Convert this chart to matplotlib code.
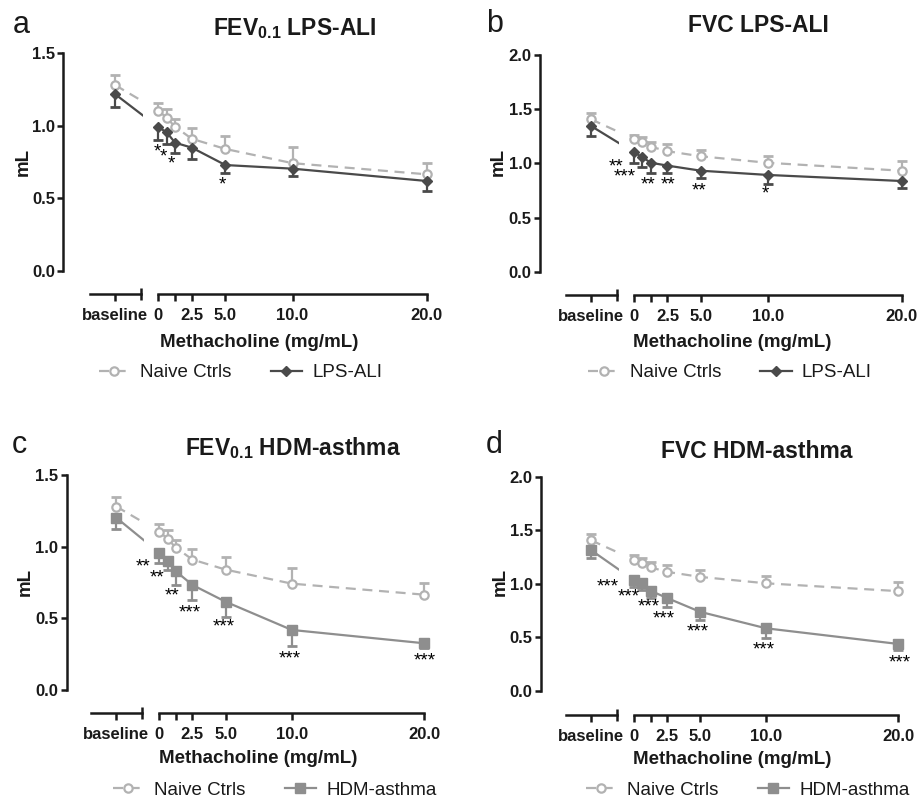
import matplotlib.pyplot as plt
import numpy as np

plt.rcParams['font.family'] = ['Liberation Sans', 'DejaVu Sans']
plt.rcParams['mathtext.default'] = 'regular'

# methacholine doses (first value of every series is the baseline)
doses = [0, 0.625, 1.25, 2.5, 5.0, 10.0, 20.0]
dose_ticks = [0, 1.25, 2.5, 5.0, 10.0, 20.0]
dose_labels = ['0', '', '2.5', '5.0', '10.0', '20.0']

# FEV0.1 (mL)
fev_naive = [1.28, 1.105, 1.055, 0.993, 0.91, 0.84, 0.742, 0.665]
fev_naive_sem = [0.068, 0.055, 0.058, 0.057, 0.075, 0.09, 0.11, 0.08]
fev_lps = [1.217, 0.99, 0.955, 0.883, 0.849, 0.729, 0.704, 0.619]
fev_lps_sem = [0.085, 0.09, 0.081, 0.073, 0.078, 0.053, 0.048, 0.067]
fev_hdm = [1.202, 0.957, 0.898, 0.828, 0.733, 0.616, 0.419, 0.326]
fev_hdm_sem = [0.081, 0.07, 0.06, 0.093, 0.105, 0.106, 0.112, 0.03]

# FVC (mL)
fvc_naive = [1.407, 1.225, 1.195, 1.154, 1.112, 1.065, 1.005, 0.932]
fvc_naive_sem = [0.056, 0.04, 0.05, 0.046, 0.064, 0.062, 0.066, 0.086]
fvc_lps = [1.345, 1.102, 1.056, 1.006, 0.979, 0.932, 0.893, 0.837]
fvc_lps_sem = [0.092, 0.096, 0.092, 0.092, 0.071, 0.07, 0.083, 0.067]
fvc_hdm = [1.315, 1.035, 1.004, 0.936, 0.868, 0.739, 0.585, 0.439]
fvc_hdm_sem = [0.071, 0.065, 0.06, 0.071, 0.088, 0.079, 0.095, 0.056]

# significance stars (dose position, mL position, text)
stars_a_x = [-0.1, 0.4, 1.0, 4.8]
stars_a_y = [0.84, 0.805, 0.757, 0.614]
stars_a = ['*', '*', '*', '*']
stars_b_x = [-1.36, -0.67, 1.02, 2.51, 4.87, 9.84]
stars_b_y = [0.992, 0.902, 0.831, 0.831, 0.779, 0.748]
stars_b = ['**', '***', '**', '**', '**', '*']
stars_c_x = [-1.21, -0.15, 0.94, 2.32, 4.88, 9.81, 20.0]
stars_c_y = [0.884, 0.807, 0.679, 0.563, 0.465, 0.242, 0.225]
stars_c = ['**', '**', '**', '***', '***', '***', '***']
stars_d_x = [-1.95, -0.43, 1.08, 2.27, 4.8, 9.85, 20.1]
stars_d_y = [0.998, 0.911, 0.812, 0.70, 0.581, 0.413, 0.296]
stars_d = ['***'] * 7

NAIVE_C = '#b2b2b2'
LPS_C = '#4a4a4a'
HDM_C = '#8e8e8e'
AX_C = '#1a1a1a'
STAR_FS = 13.5

W, H = 921, 800
fig = plt.figure(figsize=(W / 100, H / 100), dpi=100)


def fx(px):
    return px / W


def fy(py):
    return 1 - py / H


def series(ax, x, y, sem, color, marker, ls, up, clip, label=None):
    y = np.asarray(y)
    sem = np.asarray(sem)
    zeros = np.zeros_like(sem)
    yerr = [zeros, sem] if up else [sem, zeros]
    ax.errorbar(x, y, yerr=yerr, fmt='none', ecolor=color, elinewidth=1.6,
                capsize=0, clip_on=clip, zorder=2)
    ends = y + sem if up else y - sem
    ax.plot(x, ends, ls='none', marker='_', ms=7, mew=2, color=color,
            clip_on=clip, zorder=2)
    if marker == 'o':
        mk = dict(marker='o', ms=6, mfc='white', mec=color, mew=1.6)
    elif marker == 'D':
        mk = dict(marker='D', ms=5.5, mfc=color, mec=color)
    else:
        mk = dict(marker=marker, ms=6.5, mfc=color, mec=color)
    line, = ax.plot(x, y, color=color, lw=1.6, clip_on=clip, zorder=3,
                    label=label, **mk)
    if ls == 'dashed':
        line.set_dashes((4.5, 3))
    return line


def panel(g, naive, naive_sem, dis, dis_sem, dis_c, dis_m, dis_label,
          ymax, title, letter, sx, sy, st):
    x0, x20, y0, ytop, spine_x, axis_y = g['x0'], g['x20'], g['y0'], g['ytop'], g['spine'], g['axis']
    s = (x20 - x0) / 20.0
    base_x = -43 / s
    h = (y0 - ytop) / H
    out = (axis_y - y0) * 0.72

    axl = fig.add_axes([fx(spine_x), fy(y0), (x0 - 15 - spine_x) / W, h])
    axr = fig.add_axes([fx(x0), fy(y0), (x20 - x0) / W, h])
    axl.set_xlim((spine_x - x0) / s, -15 / s)
    axr.set_xlim(0, 20)
    for ax in (axl, axr):
        ax.set_ylim(0, ymax)
        ax.patch.set_visible(False)
        ax.spines['top'].set_visible(False)
        ax.spines['right'].set_visible(False)
        ax.spines['bottom'].set_position(('outward', out))
        ax.spines['bottom'].set_linewidth(1.8)
        ax.spines['bottom'].set_color(AX_C)
        ax.tick_params(axis='x', length=5, width=1.8, color=AX_C, pad=5,
                       labelsize=12)
        ax.tick_params(axis='x', which='minor', direction='inout', length=9,
                       width=1.8, color=AX_C)
    axr.spines['left'].set_visible(False)
    axr.set_yticks([])
    axl.spines['left'].set_bounds(0, ymax)
    axl.spines['left'].set_linewidth(1.8)
    axl.spines['left'].set_color(AX_C)
    yt = np.arange(0, ymax + 0.01, 0.5)
    axl.set_yticks(yt)
    axl.set_yticklabels(['%.1f' % v for v in yt], fontweight='bold',
                        fontsize=12, color=AX_C)
    axl.tick_params(axis='y', length=4, width=1.8, color=AX_C, pad=2)

    axl.spines['bottom'].set_bounds(-68 / s, -17 / s)
    axl.set_xticks([base_x])
    axl.set_xticklabels(['baseline'], fontweight='bold', fontsize=12, color=AX_C)
    axl.set_xticks([-17 / s], minor=True)
    axr.spines['bottom'].set_bounds(0, 20)
    axr.set_xticks(dose_ticks)
    axr.set_xticklabels(dose_labels, fontweight='bold', fontsize=12, color=AX_C)
    axr.set_xticks([0], minor=True)

    xs = [base_x] + doses
    series(axl, xs, naive, naive_sem, NAIVE_C, 'o', 'dashed', True, True)
    series(axl, xs, dis, dis_sem, dis_c, dis_m, 'solid', False, True)
    hn = series(axr, doses, naive[1:], naive_sem[1:], NAIVE_C, 'o', 'dashed', True, False, 'Naive Ctrls')
    hd = series(axr, doses, dis[1:], dis_sem[1:], dis_c, dis_m, 'solid', False, False, dis_label)

    for x, y, t in zip(sx, sy, st):
        axr.annotate(t, (x, y), xytext=(0, -0.41 * STAR_FS), textcoords='offset points',
                     ha='center', va='baseline', fontsize=STAR_FS, color='black',
                     annotation_clip=False)

    fig.text(fx(g['title'][0]), fy(g['title'][1]), title, ha='center',
             va='baseline', fontsize=16.5, fontweight='bold', color=AX_C)
    fig.text(fx(g['letter'][0]), fy(g['letter'][1]), letter, ha='left',
             va='baseline', fontsize=22, color=AX_C)
    fig.text(fx(g['ylab'][0]), fy(g['ylab'][1]), 'mL', rotation=90, ha='center',
             va='center', fontsize=13.5, fontweight='bold', color=AX_C)
    fig.text(fx(g['xlab'][0]), fy(g['xlab'][1]), 'Methacholine (mg/mL)',
             ha='center', va='center', fontsize=13.5, fontweight='bold', color=AX_C)
    fig.legend([hn, hd], ['Naive Ctrls', dis_label], loc='center',
               bbox_to_anchor=(fx(g['leg'][0]), fy(g['leg'][1])), ncol=2,
               frameon=False, fontsize=13.5, handlelength=1.66,
               handletextpad=0.55, columnspacing=2.1, labelcolor=AX_C)


geom_a = dict(x0=158.3, x20=426.7, y0=270.7, ytop=53.3, spine=63.3, axis=294,
              title=(295, 35), letter=(12.5, 33), ylab=(23.3, 162),
              xlab=(259.5, 342.5), leg=(240.5, 372.7))
geom_b = dict(x0=634, x20=901.7, y0=271.7, ytop=55, spine=540, axis=295,
              title=(758, 31.5), letter=(486, 31.7), ylab=(498.3, 162),
              xlab=(732.5, 342.5), leg=(730, 372.7))
geom_c = dict(x0=159.3, x20=424.3, y0=690, ytop=475, spine=66.7, axis=713,
              title=(293, 455), letter=(12, 452.7), ylab=(25, 581.7),
              xlab=(258, 758.5), leg=(274.5, 790))
geom_d = dict(x0=634, x20=898.3, y0=691, ytop=476.7, spine=541, axis=715,
              title=(756.7, 458), letter=(486, 453.3), ylab=(500, 581.7),
              xlab=(732.5, 760), leg=(747.5, 790))

panel(geom_a, fev_naive, fev_naive_sem, fev_lps, fev_lps_sem, LPS_C, 'D', 'LPS-ALI',
      1.5, r'FEV$_{0.1}$ LPS-ALI', 'a', stars_a_x, stars_a_y, stars_a)
panel(geom_b, fvc_naive, fvc_naive_sem, fvc_lps, fvc_lps_sem, LPS_C, 'D', 'LPS-ALI',
      2.0, 'FVC LPS-ALI', 'b', stars_b_x, stars_b_y, stars_b)
panel(geom_c, fev_naive, fev_naive_sem, fev_hdm, fev_hdm_sem, HDM_C, 's', 'HDM-asthma',
      1.5, r'FEV$_{0.1}$ HDM-asthma', 'c', stars_c_x, stars_c_y, stars_c)
panel(geom_d, fvc_naive, fvc_naive_sem, fvc_hdm, fvc_hdm_sem, HDM_C, 's', 'HDM-asthma',
      2.0, 'FVC HDM-asthma', 'd', stars_d_x, stars_d_y, stars_d)

fig.savefig('out.png', dpi=100)
